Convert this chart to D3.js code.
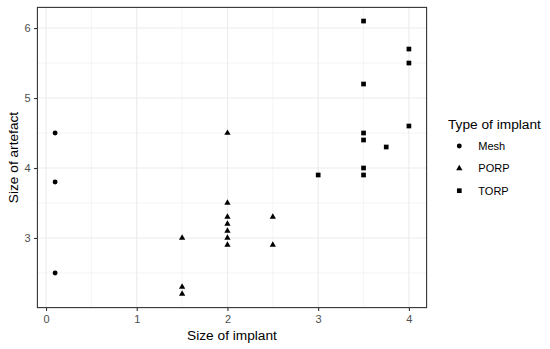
<!DOCTYPE html>
<html>
<head>
<meta charset="utf-8">
<script src="https://cdn.jsdelivr.net/npm/d3@7"></script>
<style>
  body { margin: 0; background: #fff; }
  text { font-family: "Liberation Sans", Arial, sans-serif; }
</style>
</head>
<body>
<div id="chart"></div>
<script>
// data
const types = ['Mesh', 'PORP', 'TORP'];
const meshX = [0.1, 0.1, 0.1];
const meshY = [4.5, 3.8, 2.5];
const porpX = [1.5, 1.5, 1.5, 2, 2, 2, 2, 2, 2, 2, 2.5, 2.5];
const porpY = [3.0, 2.3, 2.2, 4.5, 3.5, 3.3, 3.2, 3.1, 3.0, 2.9, 3.3, 2.9];
const torpX = [3, 3.5, 3.5, 3.5, 3.5, 3.5, 3.5, 3.75, 4, 4, 4];
const torpY = [3.9, 6.1, 5.2, 4.5, 4.4, 4.0, 3.9, 4.3, 5.7, 5.5, 4.6];
const xTicks = [0, 1, 2, 3, 4];
const yTicks = [3, 4, 5, 6];
const xMinor = [0.5, 1.5, 2.5, 3.5];
const yMinor = [2.5, 3.5, 4.5, 5.5];

const points = [];
meshX.forEach((x, i) => points.push({ x, y: meshY[i], type: 'Mesh' }));
porpX.forEach((x, i) => points.push({ x, y: porpY[i], type: 'PORP' }));
torpX.forEach((x, i) => points.push({ x, y: torpY[i], type: 'TORP' }));

const W = 550, H = 349;
const panel = { left: 37.4, right: 426.6, top: 7.4, bottom: 307.6 };

// ggplot style 5% expansion
function expand(ext) {
  const d = (ext[1] - ext[0]) * 0.05;
  return [ext[0] - d, ext[1] + d];
}

const x = d3.scaleLinear()
  .domain(expand(d3.extent(points, d => d.x)))
  .range([panel.left, panel.right]);
const y = d3.scaleLinear()
  .domain(expand(d3.extent(points, d => d.y)))
  .range([panel.bottom, panel.top]);

const shape = d3.scaleOrdinal()
  .domain(types)
  .range([d3.symbolCircle, d3.symbolTriangle, d3.symbolSquare]);
const shapeSize = { Mesh: 19, PORP: 17, TORP: 22 };
const sym = t => d3.symbol().type(shape(t)).size(shapeSize[t])();

const svg = d3.select('#chart').append('svg')
  .attr('width', W)
  .attr('height', H);

svg.append('rect')
  .attr('width', W).attr('height', H).attr('fill', '#fff');

// grid
const grid = svg.append('g');
grid.selectAll('.xmin').data(xMinor).enter().append('line')
  .attr('x1', d => x(d)).attr('x2', d => x(d))
  .attr('y1', panel.top).attr('y2', panel.bottom)
  .attr('stroke', '#ebebeb').attr('stroke-width', 0.55);
grid.selectAll('.ymin').data(yMinor).enter().append('line')
  .attr('y1', d => y(d)).attr('y2', d => y(d))
  .attr('x1', panel.left).attr('x2', panel.right)
  .attr('stroke', '#ebebeb').attr('stroke-width', 0.55);
grid.selectAll('.xmaj').data(xTicks).enter().append('line')
  .attr('x1', d => x(d)).attr('x2', d => x(d))
  .attr('y1', panel.top).attr('y2', panel.bottom)
  .attr('stroke', '#ebebeb').attr('stroke-width', 1.1);
grid.selectAll('.ymaj').data(yTicks).enter().append('line')
  .attr('y1', d => y(d)).attr('y2', d => y(d))
  .attr('x1', panel.left).attr('x2', panel.right)
  .attr('stroke', '#ebebeb').attr('stroke-width', 1.1);

// points
svg.selectAll('.pt')
  .data(points)
  .enter().append('path')
  .attr('transform', d => `translate(${x(d.x)},${y(d.y)})`)
  .attr('d', d => sym(d.type))
  .attr('fill', '#000');

// panel border
svg.append('rect')
  .attr('x', panel.left).attr('y', panel.top)
  .attr('width', panel.right - panel.left)
  .attr('height', panel.bottom - panel.top)
  .attr('fill', 'none')
  .attr('stroke', '#333333')
  .attr('stroke-width', 1.1);

// axes
const xAxis = svg.append('g')
  .attr('transform', `translate(0,${panel.bottom})`)
  .call(d3.axisBottom(x).tickValues(xTicks).tickSize(3.4).tickPadding(4.5).tickFormat(d3.format('d')));
const yAxis = svg.append('g')
  .attr('transform', `translate(${panel.left},0)`)
  .call(d3.axisLeft(y).tickValues(yTicks).tickSize(3.4).tickPadding(3.5).tickFormat(d3.format('d')));

[xAxis, yAxis].forEach(a => {
  a.select('.domain').remove();
  a.selectAll('line').attr('stroke', '#333333').attr('stroke-width', 1.1);
  a.selectAll('text')
    .attr('fill', '#4d4d4d')
    .style('font-size', '11px')
    .style('font-family', '"Liberation Sans", Arial, sans-serif');
});

// axis titles
svg.append('text')
  .attr('x', (panel.left + panel.right) / 2)
  .attr('y', 340)
  .attr('text-anchor', 'middle')
  .style('font-size', '13.7px')
  .text('Size of implant');

svg.append('text')
  .attr('transform', `translate(18,${(panel.top + panel.bottom) / 2}) rotate(-90)`)
  .attr('text-anchor', 'middle')
  .style('font-size', '13.7px')
  .text('Size of artefact');

// legend
const legend = svg.append('g');
legend.append('text')
  .attr('x', 448)
  .attr('y', 128.5)
  .style('font-size', '13.7px')
  .text('Type of implant');

const item = legend.selectAll('.item')
  .data(types)
  .enter().append('g')
  .attr('transform', (d, i) => `translate(459.3,${146 + i * 22.35})`);
item.append('path')
  .attr('d', d => sym(d))
  .attr('fill', '#000');
item.append('text')
  .attr('x', 19)
  .attr('dy', '0.36em')
  .style('font-size', '11px')
  .text(d => d);
</script>
</body>
</html>
